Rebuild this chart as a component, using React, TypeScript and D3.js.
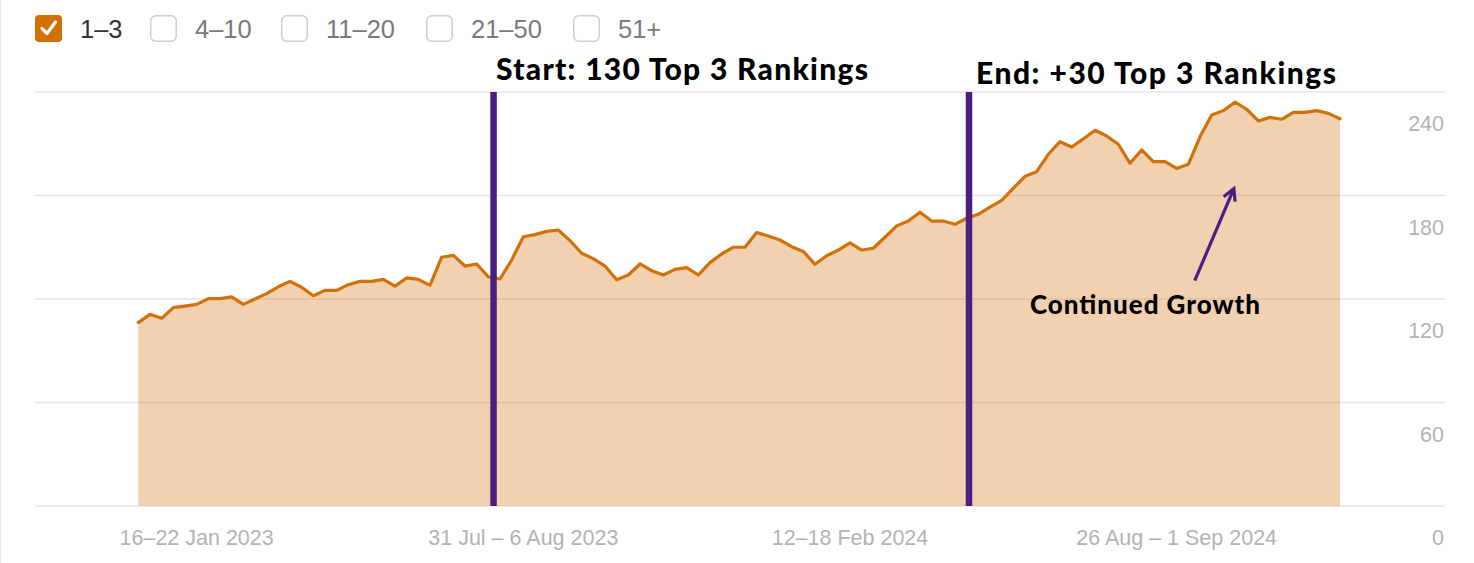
import React from "react";
import * as d3 from "d3";

const values: number[] = [
  106.3, 111.1, 108.8, 115.0, 115.9, 116.9, 120.2, 120.2, 121.2, 116.9,
  120.0, 123.1, 127.1, 130.2, 126.8, 121.9, 125.0, 125.0, 128.3, 130.2,
  130.2, 131.4, 127.5, 132.2, 131.4, 127.9, 144.2, 145.3, 139.1, 140.3,
  132.9, 131.6, 142.6, 156.1, 157.3, 159.2, 160.0, 153.8, 146.5, 143.4,
  139.1, 131.2, 133.9, 140.3, 136.4, 133.9, 137.2, 138.2, 133.9, 141.1,
  146.1, 150.0, 150.0, 158.5, 156.5, 154.2, 150.3, 147.6, 140.1, 145.1,
  148.4, 152.5, 148.4, 149.4, 155.8, 162.4, 165.2, 170.3, 165.2, 165.2,
  163.3, 166.8, 169.1, 173.3, 177.2, 184.2, 191.1, 193.8, 203.9, 211.2,
  208.1, 212.8, 217.8, 214.5, 209.7, 198.7, 206.4, 199.6, 199.6, 195.7,
  198.1, 214.0, 226.6, 229.2, 234.1, 230.0, 223.2, 225.3, 224.2, 228.2,
  228.2, 229.2, 227.6, 224.5,
];

const xTickIndex: number[] = [5, 33, 61, 89];
const xTickLabels: string[] = [
  "16–22 Jan 2023",
  "31 Jul – 6 Aug 2023",
  "12–18 Feb 2024",
  "26 Aug – 1 Sep 2024",
];
const yTicks: number[] = [0, 60, 120, 180, 240];

const legendLabels: string[] = ["1–3", "4–10", "11–20", "21–50", "51+"];
const legendChecked: boolean[] = [true, false, false, false, false];

const markerIndex: number[] = [30.45, 71.2];
const markerLabels: string[] = ["Start: 130 Top 3 Rankings", "End: +30 Top 3 Rankings"];

const arrowFrom: [number, number] = [90.55, 130.6];
const arrowTo: [number, number] = [93.9, 184];
const arrowLabel = "Continued Growth";

const W = 1474;
const H = 563;
const ORANGE = "#D2700A";
const PURPLE = "#4B1E82";
const SANS = "'Liberation Sans', Arial, sans-serif";
const BOLD = "Lato, 'Open Sans', sans-serif";

export default function App() {
  const x = d3.scaleLinear().domain([0, values.length - 1]).range([138.3, 1340]);
  const y = d3.scaleLinear().domain([0, 240]).range([506, 92]);

  const area = d3
    .area<number>()
    .x((_, i) => x(i))
    .y0(y(0))
    .y1((d) => y(d));
  const line = d3
    .line<number>()
    .x((_, i) => x(i))
    .y((d) => y(d));

  const legendBoxX = [35, 150, 281, 426, 573];

  const ax1 = x(arrowFrom[0]);
  const ay1 = y(arrowFrom[1]);
  const ax2 = x(arrowTo[0]);
  const ay2 = y(arrowTo[1]);
  const ang = Math.atan2(ay2 - ay1, ax2 - ax1);
  const headLen = 13;
  const spread = 0.5;
  const h1x = ax2 - headLen * Math.cos(ang - spread);
  const h1y = ay2 - headLen * Math.sin(ang - spread);
  const h2x = ax2 - headLen * Math.cos(ang + spread);
  const h2y = ay2 - headLen * Math.sin(ang + spread);

  const markerTextX = [496, 976];
  const markerTextY = [80, 84];
  const markerTextLen = [372, 360];

  return (
    <svg
      width={W}
      height={H}
      style={{ position: "absolute", left: 0, top: 0, background: "#fff" }}
      fontFamily={SANS}
    >
      <line x1={0.5} x2={0.5} y1={0} y2={H} stroke="#ececec" strokeWidth={1.5} />

      {/* legend */}
      {legendLabels.map((lab, i) => {
        const bx = legendBoxX[i];
        const checked = legendChecked[i];
        return (
          <g key={lab}>
            {checked ? (
              <>
                <rect x={bx} y={15} width={27} height={27} rx={4} fill="#D46F00" />
                <path
                  d={`M${bx + 7} ${28.5} L${bx + 12} ${33.5} L${bx + 20.5} ${22}`}
                  fill="none"
                  stroke="#fff"
                  strokeWidth={3.2}
                  strokeLinecap="round"
                  strokeLinejoin="round"
                />
              </>
            ) : (
              <rect
                x={bx + 0.75}
                y={15.75}
                width={25.5}
                height={25.5}
                rx={5}
                fill="#fff"
                stroke="#cfcfcf"
                strokeWidth={1.5}
              />
            )}
            <text
              x={bx + 45}
              y={37.5}
              fontSize={25.5}
              fill={checked ? "#333" : "#7a7a7a"}
            >
              {lab}
            </text>
          </g>
        );
      })}

      {/* grid */}
      {yTicks.map((t) => (
        <line
          key={t}
          x1={35}
          x2={1445}
          y1={y(t)}
          y2={y(t)}
          stroke="#e6e6e6"
          strokeWidth={1.6}
        />
      ))}

      {/* area + line */}
      <path d={area(values) || ""} fill={ORANGE} fillOpacity={0.32} />
      <path
        d={line(values) || ""}
        fill="none"
        stroke={ORANGE}
        strokeWidth={3.2}
        strokeLinejoin="round"
        strokeLinecap="round"
      />

      {/* y labels */}
      {yTicks.map((t) => (
        <text
          key={t}
          x={1444}
          y={y(t) + 39}
          textAnchor="end"
          fontSize={21.5}
          fill="#b3b3b3"
        >
          {t}
        </text>
      ))}

      {/* x labels */}
      {xTickIndex.map((idx, i) => (
        <text
          key={idx}
          x={x(idx)}
          y={545}
          textAnchor="middle"
          fontSize={21.5}
          fill="#b3b3b3"
        >
          {xTickLabels[i]}
        </text>
      ))}

      {/* markers */}
      {markerIndex.map((m, i) => (
        <g key={m}>
          <line
            x1={x(m)}
            x2={x(m)}
            y1={y(240)}
            y2={y(0)}
            stroke={PURPLE}
            strokeWidth={6.5}
          />
          <text
            x={markerTextX[i]}
            y={markerTextY[i]}
            fontFamily={BOLD}
            fontWeight={900}
            fontSize={30}
            fill="#000"
            textLength={markerTextLen[i]}
            lengthAdjust="spacing"
          >
            {markerLabels[i]}
          </text>
        </g>
      ))}

      {/* arrow annotation */}
      <line x1={ax1} y1={ay1} x2={ax2} y2={ay2} stroke={PURPLE} strokeWidth={3.2} />
      <path
        d={`M${h1x} ${h1y} L${ax2} ${ay2} L${h2x} ${h2y}`}
        fill="none"
        stroke={PURPLE}
        strokeWidth={3.2}
        strokeLinejoin="miter"
      />
      <text
        x={1030}
        y={314}
        fontFamily={BOLD}
        fontWeight={900}
        fontSize={26}
        fill="#000"
        textLength={230}
        lengthAdjust="spacing"
      >
        {arrowLabel}
      </text>
    </svg>
  );
}
